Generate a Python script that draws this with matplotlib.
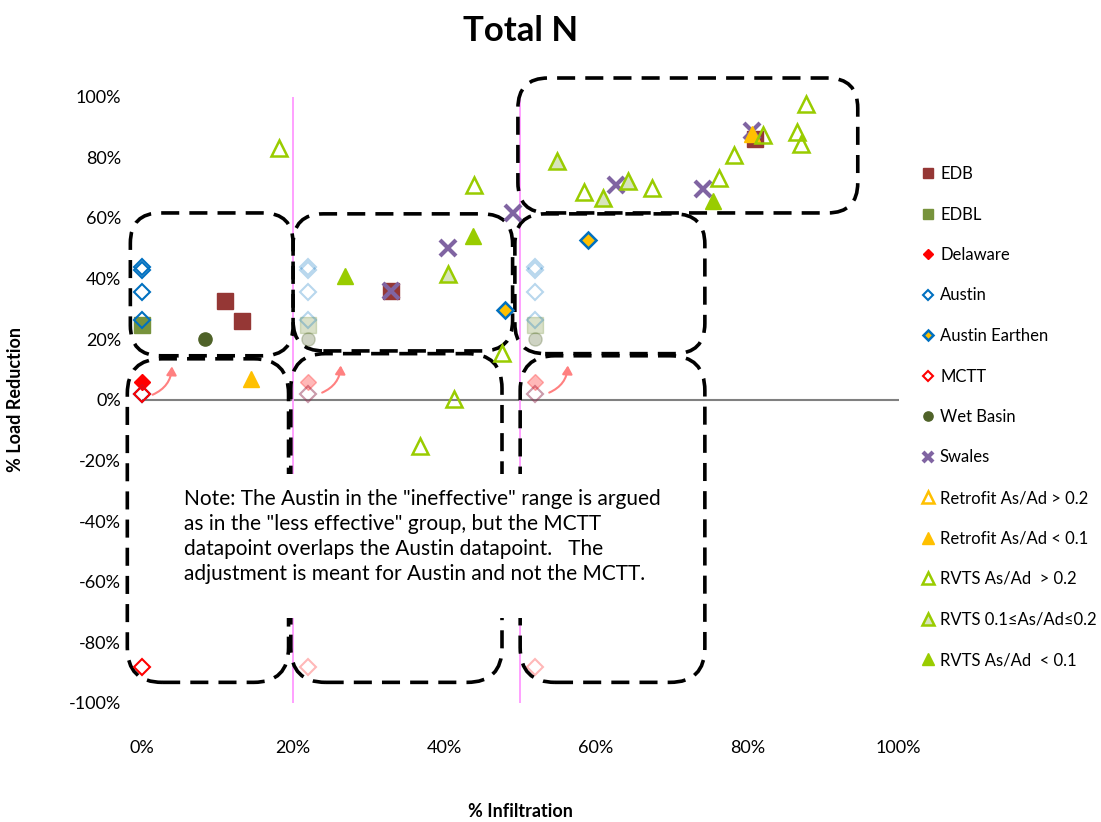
import matplotlib
matplotlib.use("Agg")
import matplotlib.pyplot as plt
from matplotlib.patches import FancyBboxPatch, FancyArrowPatch, Rectangle
from matplotlib.ticker import FuncFormatter

plt.rcParams['font.family'] = ['Lato', 'DejaVu Sans']

# ---- data (% infiltration, % load reduction) ----
edb_x = [11.0, 13.2, 33.0, 81.0]
edb_y = [32.6, 26.0, 35.8, 86.0]

edbl_x = [0.0]
edbl_y = [24.8]

delaware_x = [0.0]
delaware_y = [5.7]

austin_x = [0.0, 0.0, 0.0, 0.0, 0.0]
austin_y = [43.9, 42.8, 35.6, 26.4, 2.0]

austin_earthen_x = [48.0, 59.0]
austin_earthen_y = [29.7, 52.7]

mctt_x = [0.0, 0.0]
mctt_y = [2.0, -88.3]

wet_basin_x = [8.4]
wet_basin_y = [20.1]

swales_x = [33.0, 40.5, 49.0, 62.7, 74.2, 80.6]
swales_y = [35.9, 50.0, 61.6, 70.8, 69.5, 88.6]

retro_big_x = []
retro_big_y = []

retro_small_x = [14.4, 80.6]
retro_small_y = [6.9, 87.6]

rvts_big_x = [18.2, 36.8, 41.3, 43.9, 47.6, 58.4, 67.4, 76.3, 78.3, 82.1, 86.6, 87.1, 87.7]
rvts_big_y = [83.0, -15.2, 0.2, 70.8, 15.5, 68.5, 69.8, 73.1, 80.7, 87.3, 88.3, 84.3, 97.5]

rvts_mid_x = [40.5, 54.9, 60.9, 64.3]
rvts_mid_y = [41.5, 78.7, 66.6, 72.2]

rvts_small_x = [26.8, 43.8, 75.5]
rvts_small_y = [40.8, 54.0, 65.6]

# shifted ("adjusted") copies of the left-hand group
shift_x = [22.0, 52.0]

# group boxes: (x0, x1, y0, y1)
boxes_upper = [(-1.5, 20.0, 14.5, 61.6), (20.0, 49.0, 16.1, 61.3),
               (49.3, 74.4, 15.2, 61.3), (49.7, 94.6, 61.6, 106.1)]
boxes_lower = [(-1.9, 19.4, -93.2, 13.5), (19.7, 47.6, -93.2, 15.2),
               (50.0, 74.4, -93.2, 14.5)]

arrows = [((1.1, 1.3), (4.0, 11.9)), ((23.5, 2.0), (26.3, 12.2)),
          ((53.5, 2.0), (56.3, 12.2))]

note = ('Note: The Austin in the "ineffective" range is argued\n'
        'as in the "less effective" group, but the MCTT\n'
        'datapoint overlaps the Austin datapoint.   The\n'
        'adjustment is meant for Austin and not the MCTT.')

# ---- colours ----
c_edb = '#953735'
c_edbl = '#77933C'
c_blue = '#0070C0'
c_orange = '#FFC000'
c_wet = '#4F6228'
c_swale = '#8064A2'
c_rvts = '#99CC00'
c_rvts_fill = '#D7E4BD'

fig = plt.figure(figsize=(11.01, 8.22), dpi=100)
ax = fig.add_axes([0.1287, 0.1448, 0.6875, 0.7378])
ax.set_xlim(0, 100)
ax.set_ylim(-100, 100)
for s in ax.spines.values():
    s.set_visible(False)
ax.set_xticks(range(0, 101, 20))
ax.set_yticks(range(-100, 101, 20))
pct = FuncFormatter(lambda v, p: '%d%%' % v)
ax.xaxis.set_major_formatter(pct)
ax.yaxis.set_major_formatter(pct)
ax.tick_params(length=0, labelsize=13)
ax.tick_params(axis='y', pad=15)
ax.tick_params(axis='x', pad=27)

ax.axhline(0, color='#808080', lw=1.5, zorder=1)
for xv in (20, 50):
    ax.axvline(xv, color='#FF99FF', lw=1.3, zorder=1)

kw = dict(ls='none', clip_on=False, zorder=4)

# faded copies
for sx in shift_x:
    a = 0.28
    ax.plot([sx] * len(edbl_y), edbl_y, 's', color=c_edbl, ms=11, alpha=a, **kw)
    ax.plot([sx] * len(wet_basin_y), wet_basin_y, 'o', color=c_wet, ms=9.5, alpha=a, **kw)
    ax.plot([sx] * len(austin_y), austin_y, 'D', mfc='none', mec=c_blue, ms=8, mew=1.5, alpha=a, **kw)
    ax.plot([sx] * len(delaware_y), delaware_y, 'D', color='red', ms=8, alpha=a, **kw)
    ax.plot([sx] * len(mctt_y), mctt_y, 'D', mfc='none', mec='red', ms=8, mew=1.5, alpha=a, **kw)

ax.plot(edb_x, edb_y, 's', color=c_edb, ms=11, label='EDB', **kw)
ax.plot(edbl_x, edbl_y, 's', color=c_edbl, ms=11, label='EDBL', **kw)
ax.plot(delaware_x, delaware_y, 'D', color='red', ms=8, label='Delaware', **kw)
ax.plot(austin_x, austin_y, 'D', mfc='none', mec=c_blue, ms=8, mew=1.5, label='Austin', **kw)
ax.plot(austin_earthen_x, austin_earthen_y, 'D', mfc=c_orange, mec=c_blue, ms=8, mew=1.8,
        label='Austin Earthen', **kw)
ax.plot(mctt_x, mctt_y, 'D', mfc='none', mec='red', ms=8, mew=1.5, label='MCTT', **kw)
ax.plot(wet_basin_x, wet_basin_y, 'o', color=c_wet, ms=9.5, label='Wet Basin', **kw)
ax.plot(swales_x, swales_y, 'x', color=c_swale, ms=11, mew=3, label='Swales', **kw)
ax.plot(retro_big_x, retro_big_y, '^', mfc='none', mec=c_orange, ms=12, mew=1.8,
        label='Retrofit As/Ad > 0.2', **kw)
ax.plot(retro_small_x, retro_small_y, '^', color=c_orange, ms=12,
        label='Retrofit As/Ad < 0.1', **kw)
ax.plot(rvts_big_x, rvts_big_y, '^', mfc='none', mec=c_rvts, ms=12, mew=1.8,
        label='RVTS As/Ad  > 0.2', **kw)
ax.plot(rvts_mid_x, rvts_mid_y, '^', mfc=c_rvts_fill, mec=c_rvts, ms=12, mew=1.8,
        label='RVTS 0.1≤As/Ad≤0.2', **kw)
ax.plot(rvts_small_x, rvts_small_y, '^', color=c_rvts, ms=12,
        label='RVTS As/Ad  < 0.1', **kw)

# dashed group boxes
asp = (757 / 100) / (606.5 / 200)
for group, r in ((boxes_upper, 4.0), (boxes_lower, 4.6)):
    for x0, x1, y0, y1 in group:
        p = FancyBboxPatch((x0, y0), x1 - x0, y1 - y0,
                           boxstyle='round,pad=0,rounding_size=%g' % r,
                           mutation_aspect=asp, fill=False, ec='black', lw=2.6,
                           ls=(0, (5, 2.8)), clip_on=False, zorder=3)
        ax.add_patch(p)

for (p0, p1) in arrows:
    ax.add_patch(FancyArrowPatch(p0, p1, connectionstyle='arc3,rad=0.35',
                                 arrowstyle='-|>,head_length=5,head_width=3',
                                 color='#FF8080', lw=1.5, zorder=5))

# note with white backing
ax.add_patch(Rectangle((0.037, 0.140), 0.687, 0.238, transform=ax.transAxes,
                       fc='white', ec='none', zorder=6))
ax.text(0.056, 0.352, note, transform=ax.transAxes, ha='left', va='top',
        fontsize=15, linespacing=1.3, zorder=7)

ax.set_title('Total N', fontsize=25, fontweight='bold', pad=40)
ax.set_xlabel('% Infiltration', fontsize=13, fontweight='bold')
ax.set_ylabel('% Load Reduction', fontsize=13, fontweight='bold')
ax.xaxis.set_label_coords(0.5, -0.165)
ax.yaxis.set_label_coords(-0.155, 0.5)

fig.legend(loc='upper left', bbox_to_anchor=(920 / 1101, 1 - 166 / 822),
           frameon=False, fontsize=12, markerscale=0.7, handlelength=1.0,
           handletextpad=0.2, labelspacing=1.47, borderpad=0, borderaxespad=0)

fig.savefig('out.png', dpi=100)
